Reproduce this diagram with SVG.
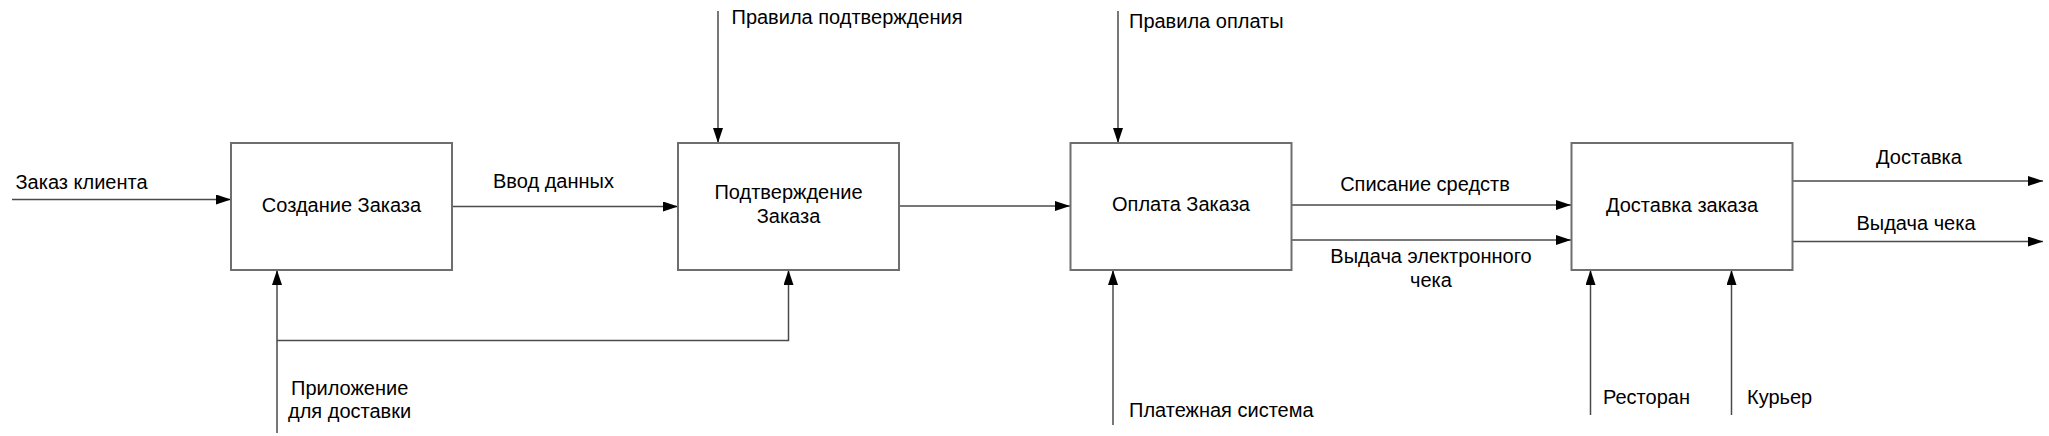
<svg xmlns="http://www.w3.org/2000/svg" width="2049" height="436" viewBox="0 0 2049 436">
<defs>
<marker id="arr" markerUnits="userSpaceOnUse" markerWidth="16" markerHeight="11" refX="15" refY="5" orient="auto">
<path d="M0,0 L15,5 L0,10 z" fill="#000"/>
</marker>
<style>
.box{fill:#fff;stroke:#6e6e6e;stroke-width:2}
.ln{fill:none;stroke:#4a4a4a;stroke-width:1.5}
.a{marker-end:url(#arr)}
text{font-family:"Liberation Sans",Arial,sans-serif;font-size:20px;fill:#000}
.c{text-anchor:middle}
</style>
</defs>
<rect width="2049" height="436" fill="#fff"/>
<g id="connectors">
<line class="ln a" x1="12" y1="199.5" x2="231" y2="199.5"/>
<line class="ln a" x1="452" y1="206.5" x2="678" y2="206.5"/>
<line class="ln a" x1="718" y1="11" x2="718" y2="143"/>
<line class="ln a" x1="899" y1="206" x2="1070" y2="206"/>
<line class="ln a" x1="1118" y1="11" x2="1118" y2="143"/>
<line class="ln a" x1="1291" y1="205" x2="1571" y2="205"/>
<line class="ln a" x1="1291" y1="240" x2="1571" y2="240"/>
<line class="ln a" x1="1792" y1="181" x2="2043" y2="181"/>
<line class="ln a" x1="1792" y1="241.5" x2="2043" y2="241.5"/>
<line class="ln a" x1="277" y1="433" x2="277" y2="270"/>
<polyline class="ln a" points="277,340.5 788.5,340.5 788.5,270"/>
<line class="ln a" x1="1113" y1="425" x2="1113" y2="270"/>
<line class="ln a" x1="1590.5" y1="415" x2="1590.5" y2="270"/>
<line class="ln a" x1="1731.5" y1="415" x2="1731.5" y2="270"/>
<text x="15.5" y="189">Заказ клиента</text>
<text x="493" y="188">Ввод данных</text>
<text x="731.5" y="24">Правила подтверждения</text>
<text x="1129" y="28">Правила оплаты</text>
<text class="c" x="1425" y="191">Списание средств</text>
<text class="c" x="1431" y="263">Выдача электронного</text>
<text class="c" x="1431" y="287">чека</text>
<text x="1129" y="417">Платежная система</text>
<text class="c" x="1919" y="164">Доставка</text>
<text class="c" x="1916" y="230">Выдача чека</text>
<text x="1603" y="404">Ресторан</text>
<text x="1747" y="404">Курьер</text>
<text x="291" y="395">Приложение</text>
<text x="288" y="418">для доставки</text>
</g>
<g id="node1">
<rect class="box" x="231" y="143" width="221" height="127"/>
<text class="c" x="341.5" y="212">Создание Заказа</text>
</g>
<g id="node2">
<rect class="box" x="678" y="143" width="221" height="127"/>
<text class="c" x="788.5" y="199">Подтверждение</text>
<text class="c" x="788.5" y="222.5">Заказа</text>
</g>
<g id="node3">
<rect class="box" x="1070.5" y="143" width="221" height="127"/>
<text class="c" x="1181" y="211">Оплата Заказа</text>
</g>
<g id="node4">
<rect class="box" x="1571.5" y="143" width="221" height="127"/>
<text class="c" x="1682" y="212">Доставка заказа</text>
</g>
</svg>
